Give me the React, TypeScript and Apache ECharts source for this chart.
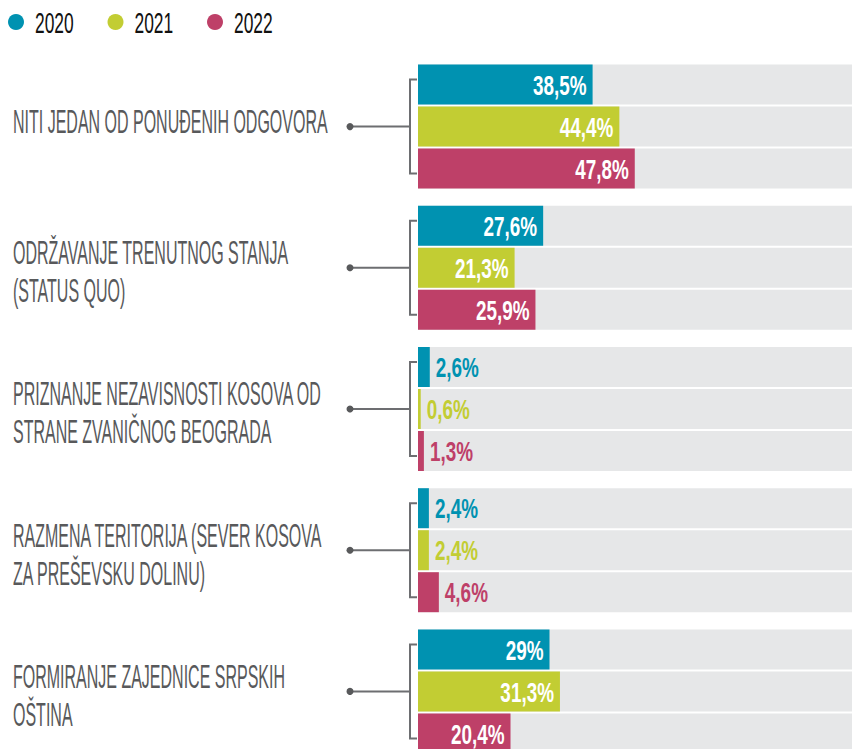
import React, { useEffect, useRef } from "react";
import * as echarts from "echarts";

const categories = [
  "NITI JEDAN OD PONUĐENIH ODGOVORA",
  "ODRŽAVANJE TRENUTNOG STANJA\n(STATUS QUO)",
  "PRIZNANJE NEZAVISNOSTI KOSOVA OD\nSTRANE ZVANIČNOG BEOGRADA",
  "RAZMENA TERITORIJA (SEVER KOSOVA\nZA PREŠEVSKU DOLINU)",
  "FORMIRANJE ZAJEDNICE SRPSKIH\nOŠTINA",
];
const years = ["2020", "2021", "2022"];
const values2020 = [38.5, 27.6, 2.6, 2.4, 29];
const values2021 = [44.4, 21.3, 0.6, 2.4, 31.3];
const values2022 = [47.8, 25.9, 1.3, 4.6, 20.4];
const seriesValues = [values2020, values2021, values2022];
const colors = ["#0092B1", "#C2CD33", "#BE4068"];

const BAR = 40;
const GAP = 2;
const fmt = (v: number) => String(v).replace(".", ",") + "%";

export default function App() {
  const ref = useRef<HTMLDivElement>(null);
  useEffect(() => {
    document.body.style.margin = "0";
    if (!ref.current) return;
    const chart = echarts.init(ref.current, undefined, { renderer: "svg" });

    const barSeries = years.map((y, s) => ({
      name: y,
      type: "bar",
      data: seriesValues[s],
      barWidth: BAR,
      barGap: (GAP / BAR) * 100 + "%",
      itemStyle: { color: colors[s] },
      showBackground: true,
      backgroundStyle: { color: "#E6E7E8" },
      silent: true,
      z: 2,
    }));

    const labelSeries = years.map((y, s) => ({
      name: "label" + y,
      type: "custom",
      clip: false,
      silent: true,
      z: 5,
      data: seriesValues[s].map((v, i) => [v, i]),
      encode: { x: 0, y: 1 },
      renderItem: (params: any, api: any) => {
        const v = api.value(0);
        const c = api.value(1);
        const p = api.coord([v, c]);
        const y = p[1] + (s - 1) * (BAR + GAP);
        const inside = v >= 10;
        return {
          type: "text",
          x: inside ? p[0] - 6 : p[0] + 6,
          y: y + 1,
          scaleX: 0.7,
          style: {
            text: fmt(v),
            fill: inside ? "#ffffff" : colors[s],
            font: 'bold 27px "Liberation Sans"',
            align: inside ? "right" : "left",
            verticalAlign: "middle",
          },
        };
      },
    }));

    const connector = {
      name: "categories",
      type: "custom",
      clip: false,
      silent: true,
      z: 4,
      data: categories.map((_, i) => [0, i]),
      encode: { x: 0, y: 1 },
      renderItem: (params: any, api: any) => {
        const c = api.value(1);
        const p = api.coord([0, c]);
        const cy = p[1];
        const x0 = p[0];
        const lines = categories[c].split("\n");
        const children: any[] = [];
        lines.forEach((ln, k) => {
          const ty = lines.length === 1 ? cy - 5 : cy - 15 + k * 38;
          children.push({
            type: "text",
            x: 13,
            y: ty,
            scaleX: 0.485,
            style: {
              text: ln,
              font: '33px "Liberation Sans"',
              fill: "#58595B",
              align: "left",
              verticalAlign: "middle",
            },
          });
        });
        const bx = x0 - 8;
        children.push({
          type: "line",
          shape: { x1: 350, y1: cy, x2: bx, y2: cy },
          style: { stroke: "#6D6E71", lineWidth: 2 },
        });
        children.push({
          type: "polyline",
          shape: {
            points: [
              [x0 - 1, cy - 47],
              [bx, cy - 47],
              [bx, cy + 47],
              [x0 - 1, cy + 47],
            ],
          },
          style: { stroke: "#6D6E71", lineWidth: 2, fill: "none" },
        });
        children.push({
          type: "circle",
          shape: { cx: 350, cy, r: 3.5 },
          style: { fill: "#58595B" },
        });
        return { type: "group", children };
      },
    };

    const legendItems: any[] = [];
    years.forEach((y, s) => {
      const lx = 16 + s * 99.5;
      legendItems.push({
        type: "circle",
        shape: { cx: lx, cy: 22, r: 8 },
        style: { fill: colors[s] },
      });
      legendItems.push({
        type: "text",
        x: lx + 19,
        y: 23,
        scaleX: 0.6,
        style: {
          text: y,
          font: '29px "Liberation Sans"',
          fill: "#111111",
          align: "left",
          verticalAlign: "middle",
        },
      });
    });

    chart.setOption({
      animation: false,
      graphic: legendItems,
      grid: { left: 418, right: 0, top: 56, bottom: 0 },
      xAxis: {
        type: "value",
        min: 0,
        max: 95.7,
        show: false,
      },
      yAxis: {
        type: "category",
        data: categories,
        inverse: true,
        show: false,
      },
      series: [...barSeries, ...labelSeries, connector],
    });
    return () => chart.dispose();
  }, []);
  return (
    <div style={{ width: 852, height: 749, overflow: "hidden" }}>
      <div ref={ref} style={{ width: 852, height: 762 }} />
    </div>
  );
}
